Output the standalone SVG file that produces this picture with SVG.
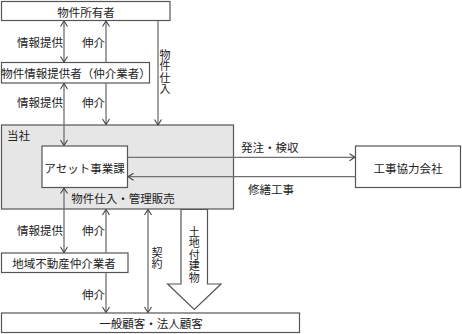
<svg xmlns="http://www.w3.org/2000/svg" width="462" height="334" viewBox="0 0 462 334">
<defs>
<marker id="ah" viewBox="0 0 8 8" refX="7.5" refY="4" markerWidth="8" markerHeight="8" markerUnits="userSpaceOnUse" orient="auto-start-reverse">
<path d="M2,0.5 L7.5,4 L2,7.5" fill="none" stroke="#444" stroke-width="1.1"/>
</marker>
<style>
.box{fill:#fff;stroke:#555;stroke-width:1.2}
.gray{fill:#e6e6e6;stroke:#555;stroke-width:1.2}
.ln{fill:none;stroke:#707070;stroke-width:1.3}
.t{font-family:"Noto Sans CJK JP","Noto Sans CJK SC",sans-serif;font-size:11.5px;fill:#222;dominant-baseline:central}
.c{text-anchor:middle}
.v{font-family:"Noto Sans CJK JP","Noto Sans CJK SC",sans-serif;font-size:11px;fill:#222;writing-mode:vertical-rl;letter-spacing:0.5px}
</style>
</defs>
<g id="tosha">
<rect class="gray" x="1.5" y="125" width="232" height="84"/>
<text class="t" x="7" y="135">当社</text>
<text class="t c" x="123" y="198">物件仕入・管理販売</text>
</g>
<g id="owner">
<rect class="box" x="1.5" y="1.5" width="168.5" height="19"/>
<text class="t c" x="86" y="11.5">物件所有者</text>
</g>
<g id="provider">
<rect class="box" x="1.5" y="62.5" width="148" height="20.5"/>
<text class="t c" x="76" y="73">物件情報提供者（仲介業者）</text>
</g>
<g id="asset">
<rect class="box" x="42" y="146" width="85.5" height="41.5"/>
<text class="t c" x="84.5" y="168">アセット事業課</text>
</g>
<g id="contractor">
<rect class="box" x="355.5" y="146" width="105" height="41.5"/>
<text class="t c" x="408" y="168">工事協力会社</text>
</g>
<g id="local">
<rect class="box" x="1.5" y="253" width="126.5" height="19.5"/>
<text class="t c" x="64" y="263">地域不動産仲介業者</text>
</g>
<g id="customer">
<rect class="box" x="1.5" y="313" width="298" height="19.5"/>
<text class="t c" x="151" y="322.5">一般顧客・法人顧客</text>
</g>
<g id="connectors">
<line class="ln" x1="64" y1="21" x2="64" y2="62" marker-start="url(#ah)" marker-end="url(#ah)"/>
<line class="ln" x1="106" y1="62.5" x2="106" y2="21" marker-end="url(#ah)"/>
<line class="ln" x1="158" y1="21" x2="158" y2="125" marker-end="url(#ah)"/>
<line class="ln" x1="64" y1="83.5" x2="64" y2="145.5" marker-start="url(#ah)" marker-end="url(#ah)"/>
<line class="ln" x1="106" y1="83" x2="106" y2="124.5" marker-end="url(#ah)"/>
<line class="ln" x1="127.5" y1="157.3" x2="355" y2="157.3" marker-end="url(#ah)"/>
<line class="ln" x1="355.5" y1="176.7" x2="128" y2="176.7" marker-end="url(#ah)"/>
<line class="ln" x1="64" y1="188" x2="64" y2="252.5" marker-start="url(#ah)" marker-end="url(#ah)"/>
<line class="ln" x1="106" y1="253" x2="106" y2="209.5" marker-end="url(#ah)"/>
<line class="ln" x1="106" y1="272.5" x2="106" y2="312.5" marker-end="url(#ah)"/>
<line class="ln" x1="148" y1="209.5" x2="148" y2="312.5" marker-start="url(#ah)" marker-end="url(#ah)"/>
<path d="M181,209.5 L207.5,209.5 L207.5,284 L221,284 L194.3,309.5 L167.6,284 L181,284 Z" fill="#fff" stroke="#555" stroke-width="1.2"/>
<text class="t" x="17" y="42">情報提供</text>
<text class="t" x="82" y="42">伸介</text>
<text class="t" x="17" y="102">情報提供</text>
<text class="t" x="82" y="102">伸介</text>
<text class="t" x="17" y="230">情報提供</text>
<text class="t" x="82" y="230">伸介</text>
<text class="t" x="82" y="294">伸介</text>
<text class="t" x="241" y="147">発注・検収</text>
<text class="t" x="248" y="189">修繕工事</text>
<text class="v" x="165" y="49">物件仕入</text>
<text class="v" x="157" y="247">契約</text>
<text class="v" x="194.3" y="226">土地付建物</text>
</g>
</svg>
